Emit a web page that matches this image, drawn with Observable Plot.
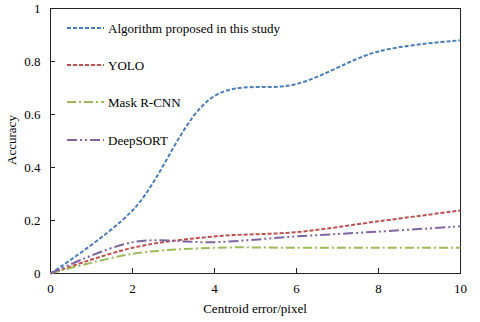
<!DOCTYPE html>
<html><head><meta charset="utf-8">
<script src="https://cdn.jsdelivr.net/npm/d3@7"></script>
<script src="https://cdn.jsdelivr.net/npm/@observablehq/plot@0.6"></script>
<style>body{margin:0;background:#fff;}</style>
</head><body><div id="chart"></div>
<script>
const xs = [0, 2, 4, 6, 8, 10];
const algorithm = [0, 0.238, 0.67, 0.715, 0.838, 0.88];
const yolo = [0, 0.097, 0.14, 0.156, 0.197, 0.238];
const maskrcnn = [0, 0.074, 0.097, 0.097, 0.097, 0.097];
const deepsort = [0, 0.118, 0.118, 0.14, 0.158, 0.178];
const seriesNames = ["Algorithm proposed in this study", "YOLO", "Mask R-CNN", "DeepSORT"];
const xTicks = [0, 2, 4, 6, 8, 10];
const yTicks = [0, 0.2, 0.4, 0.6, 0.8, 1];

const colors = ["#4A7EBB", "#C0504D", "#9BBB59", "#8064A2"];
const dashes = ["4,2", "4,2", "9,3,2,3", "10,3,2,3,2,3"];
const allSeries = [algorithm, yolo, maskrcnn, deepsort];
const rows = [];
allSeries.forEach((vals, s) => xs.forEach((x, i) => rows.push({x, y: vals[i], s})));

const FONT = "'Liberation Serif', 'Times New Roman', serif";
const plot = Plot.plot({
  width: 480, height: 322,
  marginLeft: 50, marginRight: 20, marginTop: 8, marginBottom: 49,
  style: {fontSize: "13px", color: "#000", background: "#fff", fontFamily: FONT},
  x: {domain: [0, 10]},
  y: {domain: [0, 1]},
  marks: [
    Plot.frame({stroke: "#222", strokeWidth: 1}),
    Plot.ruleX(xTicks, {x: d => d, y1: 0, y2: 0, insetTop: -5, stroke: "#222"}),
    Plot.ruleY(yTicks, {y: d => d, x1: 0, x2: 0, insetRight: -5, stroke: "#222"}),
    Plot.axisX({ticks: xTicks, tickSize: 0, tickPadding: 10, tickFormat: d => String(d), label: null, fontSize: 13}),
    Plot.axisY({ticks: yTicks, tickSize: 0, tickPadding: 10, tickFormat: d => String(d), label: null, fontSize: 13}),
    ...allSeries.map((vals, s) => Plot.line(rows.filter(r => r.s === s), {
      x: "x", y: "y", stroke: colors[s], strokeWidth: 2, curve: "catmull-rom",
      strokeDasharray: dashes[s], strokeLinecap: "butt", strokeLinejoin: "round"
    }))
  ]
});

const svg = d3.select(plot);
// axis titles
svg.append("text").attr("x", 255).attr("y", 313).attr("text-anchor", "middle")
  .attr("font-size", 13).attr("fill", "#000").text("Centroid error/pixel");
svg.append("text").attr("transform", "translate(16,140) rotate(-90)").attr("text-anchor", "middle")
  .attr("font-size", 13).attr("fill", "#000").text("Accuracy");
// legend
const legendY = [28, 65, 102, 140];
seriesNames.forEach((name, i) => {
  svg.append("line").attr("x1", 67).attr("x2", 104).attr("y1", legendY[i]).attr("y2", legendY[i])
    .attr("stroke", colors[i]).attr("stroke-width", 2).attr("stroke-dasharray", dashes[i]);
  svg.append("text").attr("x", 108).attr("y", legendY[i] + 4.5).attr("font-size", 13)
    .attr("text-anchor", "start").attr("fill", "#000").text(name);
});
svg.selectAll("text").style("font-family", FONT);
document.getElementById("chart").appendChild(plot);
</script></body></html>
